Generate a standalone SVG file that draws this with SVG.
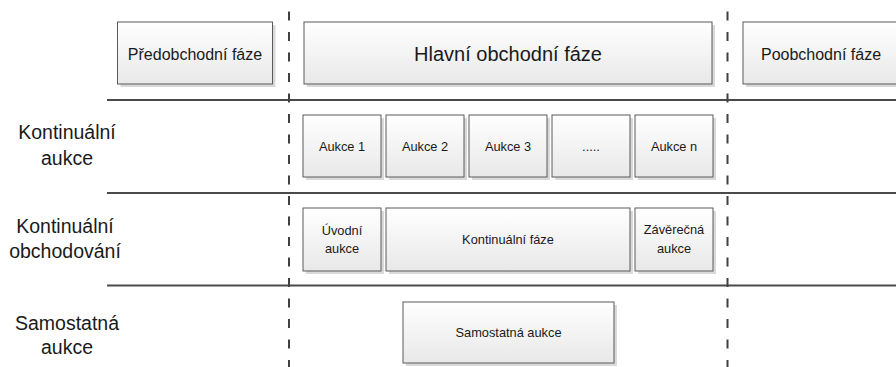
<svg xmlns="http://www.w3.org/2000/svg" width="896" height="367" viewBox="0 0 896 367">
<defs>
<linearGradient id="boxfill" x1="0" y1="0" x2="0" y2="1">
<stop offset="0" stop-color="#ffffff"/>
<stop offset="1" stop-color="#e8e8e8"/>
</linearGradient>
<style>
.box{fill:url(#boxfill);stroke:#5a5a5a;stroke-width:1}
.shadow{fill:#d9d9d9}
.t{font-family:"Liberation Sans",Arial,sans-serif;fill:#1a1a1a;text-anchor:middle}
.s{font-size:12.8px}
.m{font-size:16px}
.l{font-size:20px}
.row{font-size:19.5px}
.hline{stroke:#4a4a4a;stroke-width:2;fill:none}
.dline{stroke:#404040;stroke-width:2;fill:none;stroke-dasharray:9 11.5}
</style>
</defs>
<rect width="896" height="367" fill="#ffffff"/>
<g id="connectors">
<line class="hline" x1="107" y1="100" x2="896" y2="100"/>
<line class="hline" x1="107" y1="193" x2="896" y2="193"/>
<line class="hline" x1="107" y1="285.5" x2="896" y2="285.5"/>
<line class="dline" x1="289" y1="11.5" x2="289" y2="367"/>
<line class="dline" x1="727.5" y1="11.5" x2="727.5" y2="367"/>
</g>
<g id="row-kontinualni-aukce">
<text class="t row" x="67" y="139">Kontinuální</text>
<text class="t row" x="67" y="165">aukce</text>
</g>
<g id="row-kontinualni-obchodovani">
<text class="t row" x="65" y="233">Kontinuální</text>
<text class="t row" x="65" y="258">obchodování</text>
</g>
<g id="row-samostatna-aukce">
<text class="t row" x="67" y="330">Samostatná</text>
<text class="t row" x="67" y="354">aukce</text>
</g>
<g id="predobchodni">
<rect class="shadow" x="120.5" y="25" width="155" height="62"/>
<rect class="box" x="117.5" y="22" width="155" height="62"/>
<text class="t m" x="195" y="60">Předobchodní fáze</text>
</g>
<g id="hlavni">
<rect class="shadow" x="307" y="25" width="408" height="62"/>
<rect class="box" x="304" y="22" width="408" height="62"/>
<text class="t l" x="508" y="61">Hlavní obchodní fáze</text>
</g>
<g id="poobchodni">
<rect class="shadow" x="746" y="25" width="155" height="62"/>
<rect class="box" x="743" y="22" width="155" height="62"/>
<text class="t m" x="821" y="60">Poobchodní fáze</text>
</g>
<g id="aukce1">
<rect class="shadow" x="306" y="118" width="78" height="62"/>
<rect class="box" x="303" y="115" width="78" height="62"/>
<text class="t s" x="342" y="150.5">Aukce 1</text>
</g>
<g id="aukce2">
<rect class="shadow" x="389" y="118" width="78" height="62"/>
<rect class="box" x="386" y="115" width="78" height="62"/>
<text class="t s" x="425" y="150.5">Aukce 2</text>
</g>
<g id="aukce3">
<rect class="shadow" x="472" y="118" width="78" height="62"/>
<rect class="box" x="469" y="115" width="78" height="62"/>
<text class="t s" x="508" y="150.5">Aukce 3</text>
</g>
<g id="aukce-dots">
<rect class="shadow" x="555" y="118" width="78" height="62"/>
<rect class="box" x="552" y="115" width="78" height="62"/>
<text class="t s" x="591" y="150.5">.....</text>
</g>
<g id="aukcen">
<rect class="shadow" x="638" y="118" width="78" height="62"/>
<rect class="box" x="635" y="115" width="78" height="62"/>
<text class="t s" x="674" y="150.5">Aukce n</text>
</g>
<g id="uvodni">
<rect class="shadow" x="306" y="211" width="78" height="63"/>
<rect class="box" x="303" y="208" width="78" height="63"/>
<text class="t s" x="342" y="234.5">Úvodní</text>
<text class="t s" x="342" y="252.5">aukce</text>
</g>
<g id="kontinualni-faze">
<rect class="shadow" x="389" y="211" width="244" height="63"/>
<rect class="box" x="386" y="208" width="244" height="63"/>
<text class="t s" x="508" y="243.5">Kontinuální fáze</text>
</g>
<g id="zaverecna">
<rect class="shadow" x="638" y="211" width="78" height="63"/>
<rect class="box" x="635" y="208" width="78" height="63"/>
<text class="t s" x="674" y="233.5">Závěrečná</text>
<text class="t s" x="674" y="252.5">aukce</text>
</g>
<g id="samostatna">
<rect class="shadow" x="406" y="305" width="211" height="61"/>
<rect class="box" x="403" y="302" width="211" height="61"/>
<text class="t s" x="508.5" y="337">Samostatná aukce</text>
</g>
</svg>
